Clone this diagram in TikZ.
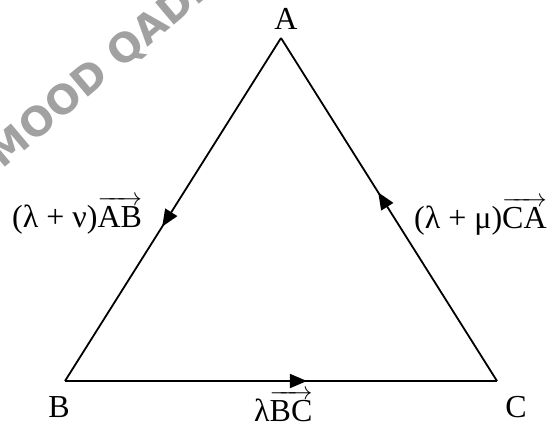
\documentclass[tikz,border=0pt]{standalone}
\usepackage{amsmath}
\usepackage{fontspec}
\setmainfont{Liberation Serif}
\newfontfamily\wmfont{DejaVu Sans}
\usetikzlibrary{arrows.meta,decorations.markings}

\tikzset{
  lbl/.style={inner sep=0pt, font=\fontsize{32}{34}\selectfont},
  side/.style={line width=1.8pt, line join=miter,
    decoration={markings, mark=at position #1 with
      {\arrow{Triangle[length=17pt,width=14pt]}}},
    postaction={decorate}},
  wm/.style={inner sep=0pt, text=black!37, rotate=40,
    font=\wmfont\bfseries\fontsize{40}{42}\selectfont}
}

\begin{document}
\begin{tikzpicture}[x=1pt, y=-1pt]
  \useasboundingbox (0,0) rectangle (548,425);
  % watermark, cut by the frame
  \begin{scope}
    \clip (0,0) rectangle (548,425);
    \coordinate (w) at (116,74);
    \node[wm, anchor=base east] (wm1) at (w) {MAHMOOD\,};
    \node[wm, anchor=base west] (wm2) at (w) {\,QADRI};
  \end{scope}
  \coordinate (A) at (281,38);
  \coordinate (B) at (65,381);
  \coordinate (C) at (497,381);
  \node[lbl, anchor=base] (la) at (286,30) {A};
  \node[lbl, anchor=base] (lb) at (59,417) {B};
  \node[lbl, anchor=base] (lc) at (516,417) {C};
  % sides with their arrows
  \draw[side=0.55] (A) -- (B);
  \draw[side=0.56] (B) -- (C);
  \draw[side=0.55] (C) -- (A);
  \node[lbl, anchor=base west] (lab) at (12,227)
    {(λ + ν)$\overrightarrow{\hbox{AB}}$};
  \node[lbl, anchor=base west] (lca) at (414,228)
    {(λ + μ)$\overrightarrow{\hbox{CA}}$};
  \node[lbl, anchor=base west] (lbc) at (254,421)
    {λ$\overrightarrow{\hbox{BC}}$};
\end{tikzpicture}
\end{document}
